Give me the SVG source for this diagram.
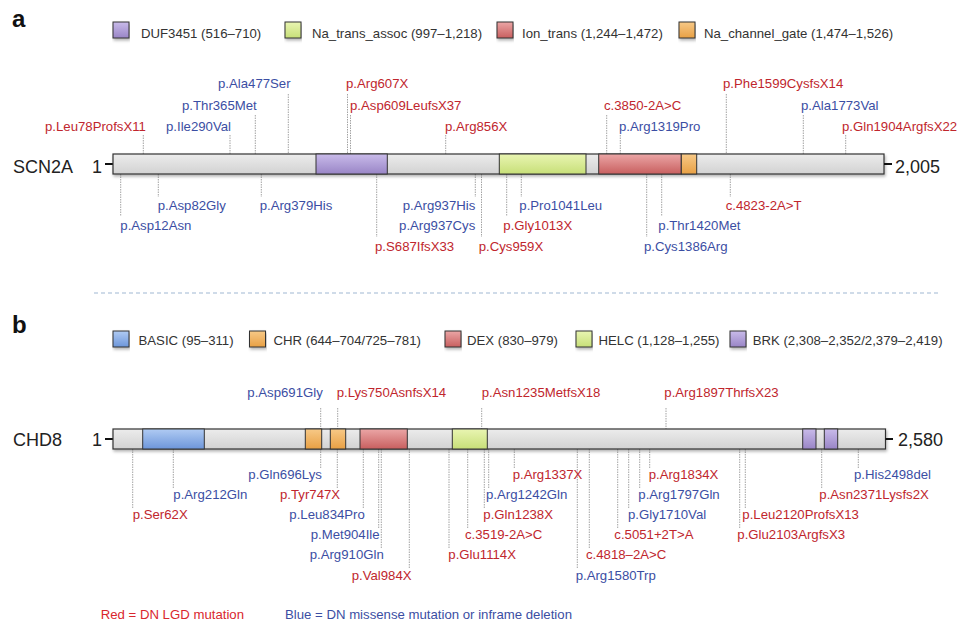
<svg xmlns="http://www.w3.org/2000/svg" width="960" height="623" viewBox="0 0 960 623">
<defs>
<style>
text{font-family:"Liberation Sans",Arial,Helvetica,sans-serif;}
.lg{font-size:13.2px;fill:#333;}
.r{font-size:13.2px;fill:#c0262d;}
.b{font-size:13.2px;fill:#3b4ea3;}
.gene{font-size:18px;fill:#222;}
.pl{font-size:24px;font-weight:bold;fill:#111;}
.bar{fill:url(#gGray);stroke:#333;stroke-width:1.2;}
.dom{stroke:#333;stroke-width:1;}
.sq{stroke:#333;stroke-width:1;}
.cn{stroke:#8c8c8c;stroke-width:0.8;stroke-dasharray:1.5 1;fill:none;}
.tick{stroke:#111;stroke-width:2;}
</style>
<linearGradient id="gGray" x1="0" y1="0" x2="0" y2="1"><stop offset="0" stop-color="#ececec"/><stop offset="1" stop-color="#d2d2d2"/></linearGradient>
<linearGradient id="gPur" x1="0" y1="0" x2="0" y2="1"><stop offset="0" stop-color="#c9bbea"/><stop offset="1" stop-color="#9985c6"/></linearGradient>
<linearGradient id="gGrn" x1="0" y1="0" x2="0" y2="1"><stop offset="0" stop-color="#e9f5b2"/><stop offset="1" stop-color="#c7df78"/></linearGradient>
<linearGradient id="gRed" x1="0" y1="0" x2="0" y2="1"><stop offset="0" stop-color="#eba6a6"/><stop offset="1" stop-color="#c85f5f"/></linearGradient>
<linearGradient id="gOrg" x1="0" y1="0" x2="0" y2="1"><stop offset="0" stop-color="#f7c987"/><stop offset="1" stop-color="#e8a044"/></linearGradient>
<linearGradient id="gBlu" x1="0" y1="0" x2="0" y2="1"><stop offset="0" stop-color="#b0cbf3"/><stop offset="1" stop-color="#6d96da"/></linearGradient>
<filter id="sh" x="-5%" y="-30%" width="110%" height="170%"><feDropShadow dx="1" dy="2" stdDeviation="1.5" flood-color="#000" flood-opacity="0.3"/></filter>
</defs>
<rect width="960" height="623" fill="#fff"/>

<!-- Panel a -->
<text class="pl" x="12" y="27">a</text>
<g id="legend-a">
<rect class="sq" x="113" y="22" width="16" height="16" fill="url(#gPur)" filter="url(#sh)"/><text class="lg" x="141" y="38">DUF3451 (516–710)</text>
<rect class="sq" x="285" y="22" width="16" height="16" fill="url(#gGrn)" filter="url(#sh)"/><text class="lg" x="312" y="38">Na_trans_assoc (997–1,218)</text>
<rect class="sq" x="497" y="22" width="16" height="16" fill="url(#gRed)" filter="url(#sh)"/><text class="lg" x="522" y="38">Ion_trans (1,244–1,472)</text>
<rect class="sq" x="679" y="22" width="16" height="16" fill="url(#gOrg)" filter="url(#sh)"/><text class="lg" x="704" y="38">Na_channel_gate (1,474–1,526)</text>
</g>

<g id="connectors">
<!-- SCN2A upper -->
<line class="cn" x1="143.3" y1="135" x2="143.3" y2="154"/>
<line class="cn" x1="230" y1="135" x2="230" y2="154"/>
<line class="cn" x1="255.3" y1="115" x2="255.3" y2="154"/>
<line class="cn" x1="288.3" y1="94" x2="288.3" y2="154"/>
<line class="cn" x1="347.5" y1="94" x2="347.5" y2="154"/>
<line class="cn" x1="350.5" y1="115" x2="350.5" y2="154"/>
<line class="cn" x1="445.7" y1="135" x2="445.7" y2="154"/>
<line class="cn" x1="606.7" y1="115" x2="606.7" y2="154"/>
<line class="cn" x1="620.3" y1="135" x2="620.3" y2="154"/>
<line class="cn" x1="726.3" y1="94" x2="726.3" y2="154"/>
<line class="cn" x1="803.3" y1="115" x2="803.3" y2="154"/>
<line class="cn" x1="845.7" y1="135" x2="845.7" y2="154"/>
<!-- SCN2A lower -->
<line class="cn" x1="120.7" y1="174" x2="120.7" y2="216"/>
<line class="cn" x1="158.3" y1="174" x2="158.3" y2="197"/>
<line class="cn" x1="261.3" y1="174" x2="261.3" y2="197"/>
<line class="cn" x1="376.7" y1="174" x2="376.7" y2="237"/>
<line class="cn" x1="475.3" y1="174" x2="475.3" y2="197"/>
<line class="cn" x1="481.5" y1="174" x2="481.5" y2="237"/>
<line class="cn" x1="506.7" y1="174" x2="506.7" y2="216"/>
<line class="cn" x1="521.3" y1="174" x2="521.3" y2="197"/>
<line class="cn" x1="646.7" y1="174" x2="646.7" y2="237"/>
<line class="cn" x1="661.7" y1="174" x2="661.7" y2="216"/>
<line class="cn" x1="730.3" y1="174" x2="730.3" y2="197"/>
<!-- CHD8 upper -->
<line class="cn" x1="320.7" y1="408" x2="320.7" y2="429"/>
<line class="cn" x1="337.7" y1="408" x2="337.7" y2="429"/>
<line class="cn" x1="481.7" y1="408" x2="481.7" y2="429"/>
<line class="cn" x1="666" y1="408" x2="666" y2="429"/>
<!-- CHD8 lower -->
<line class="cn" x1="132.7" y1="449" x2="132.7" y2="508"/>
<line class="cn" x1="173.3" y1="449" x2="173.3" y2="488"/>
<line class="cn" x1="320.7" y1="449" x2="320.7" y2="468"/>
<line class="cn" x1="337.3" y1="449" x2="337.3" y2="488"/>
<line class="cn" x1="363.3" y1="449" x2="363.3" y2="508"/>
<line class="cn" x1="378.7" y1="449" x2="378.7" y2="528"/>
<line class="cn" x1="381.3" y1="449" x2="381.3" y2="548"/>
<line class="cn" x1="409.3" y1="449" x2="409.3" y2="569"/>
<line class="cn" x1="449" y1="449" x2="449" y2="548"/>
<line class="cn" x1="467.7" y1="449" x2="467.7" y2="528"/>
<line class="cn" x1="484.3" y1="449" x2="484.3" y2="508"/>
<line class="cn" x1="488.7" y1="449" x2="488.7" y2="488"/>
<line class="cn" x1="514.3" y1="449" x2="514.3" y2="468"/>
<line class="cn" x1="577.3" y1="449" x2="577.3" y2="569"/>
<line class="cn" x1="589.3" y1="449" x2="589.3" y2="548"/>
<line class="cn" x1="617.7" y1="449" x2="617.7" y2="528"/>
<line class="cn" x1="628.7" y1="449" x2="628.7" y2="508"/>
<line class="cn" x1="639.7" y1="449" x2="639.7" y2="488"/>
<line class="cn" x1="649.7" y1="449" x2="649.7" y2="468"/>
<line class="cn" x1="739.7" y1="449" x2="739.7" y2="528"/>
<line class="cn" x1="745.3" y1="449" x2="745.3" y2="508"/>
<line class="cn" x1="821.7" y1="449" x2="821.7" y2="488"/>
<line class="cn" x1="858.3" y1="449" x2="858.3" y2="468"/>
</g>

<g id="SCN2A">
<text class="gene" x="13" y="173">SCN2A</text>
<text class="gene" x="102" y="173" text-anchor="end">1</text>
<line class="tick" x1="105" y1="164" x2="113" y2="164"/>
<rect class="bar" x="113" y="154" width="771" height="20" filter="url(#sh)"/>
<rect class="dom" x="316" y="154" width="71.3" height="20" fill="url(#gPur)"/>
<rect class="dom" x="499.3" y="154" width="86.7" height="20" fill="url(#gGrn)"/>
<rect class="dom" x="598.7" y="154" width="82.6" height="20" fill="url(#gRed)"/>
<rect class="dom" x="681.3" y="154" width="15.4" height="20" fill="url(#gOrg)"/>
<line class="tick" x1="884" y1="164" x2="892" y2="164"/>
<text class="gene" x="895" y="173">2,005</text>
</g>

<g id="SCN2A-labels">
<text class="b" x="218" y="88">p.Ala477Ser</text>
<text class="r" x="346" y="88">p.Arg607X</text>
<text class="r" x="723" y="88">p.Phe1599CysfsX14</text>
<text class="b" x="182" y="109.5">p.Thr365Met</text>
<text class="r" x="350" y="109.5">p.Asp609LeufsX37</text>
<text class="r" x="604" y="109.5">c.3850-2A&gt;C</text>
<text class="b" x="801" y="109.5">p.Ala1773Val</text>
<text class="r" x="45" y="131">p.Leu78ProfsX11</text>
<text class="b" x="166" y="131">p.Ile290Val</text>
<text class="r" x="445" y="131">p.Arg856X</text>
<text class="b" x="619" y="131">p.Arg1319Pro</text>
<text class="r" x="842" y="131">p.Gln1904ArgfsX22</text>
<text class="b" x="157.7" y="210">p.Asp82Gly</text>
<text class="b" x="259.7" y="210">p.Arg379His</text>
<text class="b" x="475.3" y="210" text-anchor="end">p.Arg937His</text>
<text class="b" x="519.3" y="210">p.Pro1041Leu</text>
<text class="r" x="725.7" y="210">c.4823-2A&gt;T</text>
<text class="b" x="120.3" y="230">p.Asp12Asn</text>
<text class="b" x="475.3" y="230" text-anchor="end">p.Arg937Cys</text>
<text class="r" x="503.3" y="230">p.Gly1013X</text>
<text class="b" x="658.3" y="230">p.Thr1420Met</text>
<text class="r" x="375" y="251">p.S687IfsX33</text>
<text class="r" x="478.7" y="251">p.Cys959X</text>
<text class="b" x="644" y="251">p.Cys1386Arg</text>
</g>

<line x1="94" y1="293" x2="938" y2="293" stroke="#9fb7d2" stroke-width="1" stroke-dasharray="4 3"/>

<!-- Panel b -->
<text class="pl" x="12" y="333">b</text>
<g id="legend-b">
<rect class="sq" x="113" y="331" width="16" height="16" fill="url(#gBlu)" filter="url(#sh)"/><text class="lg" x="138.5" y="345">BASIC (95–311)</text>
<rect class="sq" x="249.5" y="331" width="16" height="16" fill="url(#gOrg)" filter="url(#sh)"/><text class="lg" x="273.5" y="345">CHR (644–704/725–781)</text>
<rect class="sq" x="445" y="331" width="16" height="16" fill="url(#gRed)" filter="url(#sh)"/><text class="lg" x="467" y="345">DEX (830–979)</text>
<rect class="sq" x="576" y="331" width="16" height="16" fill="url(#gGrn)" filter="url(#sh)"/><text class="lg" x="598.5" y="345">HELC (1,128–1,255)</text>
<rect class="sq" x="730" y="331" width="16" height="16" fill="url(#gPur)" filter="url(#sh)"/><text class="lg" x="752.7" y="345">BRK (2,308–2,352/2,379–2,419)</text>
</g>

<g id="CHD8">
<text class="gene" x="13" y="446">CHD8</text>
<text class="gene" x="102" y="446" text-anchor="end">1</text>
<line class="tick" x1="105" y1="439" x2="113" y2="439"/>
<rect class="bar" x="113" y="429" width="772.5" height="20" filter="url(#sh)"/>
<rect class="dom" x="142.7" y="429" width="61.6" height="20" fill="url(#gBlu)"/>
<rect class="dom" x="305.3" y="429" width="16.4" height="20" fill="url(#gOrg)"/>
<rect class="dom" x="330.3" y="429" width="15.4" height="20" fill="url(#gOrg)"/>
<rect class="dom" x="360" y="429" width="47.3" height="20" fill="url(#gRed)"/>
<rect class="dom" x="452.3" y="429" width="35" height="20" fill="url(#gGrn)"/>
<rect class="dom" x="802.7" y="429" width="13.3" height="20" fill="url(#gPur)"/>
<rect class="dom" x="824.3" y="429" width="13.4" height="20" fill="url(#gPur)"/>
<line class="tick" x1="885.5" y1="439" x2="893" y2="439"/>
<text class="gene" x="898" y="446">2,580</text>
</g>

<g id="CHD8-labels">
<text class="b" x="247.3" y="397">p.Asp691Gly</text>
<text class="r" x="336.7" y="397">p.Lys750AsnfsX14</text>
<text class="r" x="481.7" y="397">p.Asn1235MetfsX18</text>
<text class="r" x="664.3" y="397">p.Arg1897ThrfsX23</text>
<text class="b" x="248.3" y="479">p.Gln696Lys</text>
<text class="r" x="512.7" y="479">p.Arg1337X</text>
<text class="r" x="648.7" y="479">p.Arg1834X</text>
<text class="b" x="854" y="479">p.His2498del</text>
<text class="b" x="173.3" y="499">p.Arg212Gln</text>
<text class="r" x="280" y="499">p.Tyr747X</text>
<text class="b" x="486" y="499">p.Arg1242Gln</text>
<text class="b" x="638.3" y="499">p.Arg1797Gln</text>
<text class="r" x="819.3" y="499">p.Asn2371Lysfs2X</text>
<text class="r" x="132.7" y="519">p.Ser62X</text>
<text class="b" x="289.3" y="519">p.Leu834Pro</text>
<text class="r" x="483.3" y="519">p.Gln1238X</text>
<text class="b" x="628" y="519">p.Gly1710Val</text>
<text class="r" x="742.3" y="519">p.Leu2120ProfsX13</text>
<text class="b" x="310.7" y="539">p.Met904Ile</text>
<text class="r" x="465" y="539">c.3519-2A&gt;C</text>
<text class="r" x="614.3" y="539">c.5051+2T&gt;A</text>
<text class="r" x="737.3" y="539">p.Glu2103ArgfsX3</text>
<text class="b" x="309.7" y="559">p.Arg910Gln</text>
<text class="r" x="448.3" y="559">p.Glu1114X</text>
<text class="r" x="586" y="559">c.4818–2A&gt;C</text>
<text class="r" x="351.7" y="580">p.Val984X</text>
<text class="b" x="575.7" y="580">p.Arg1580Trp</text>
</g>

<g id="footer">
<text class="r" x="100.7" y="619" style="fill:#d9272e">Red = DN LGD mutation</text>
<text class="b" x="285" y="619">Blue = DN missense mutation or inframe deletion</text>
</g>
</svg>
